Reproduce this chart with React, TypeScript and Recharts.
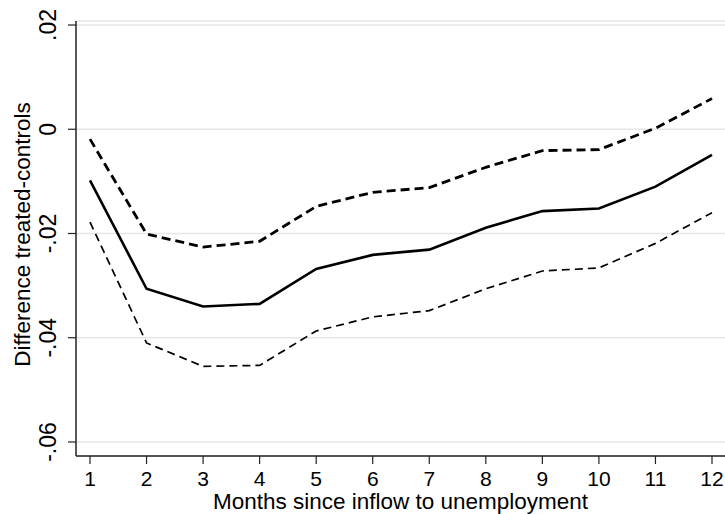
import React from "react";
import { LineChart, Line, XAxis, YAxis, CartesianGrid } from "recharts";

const months = [1, 2, 3, 4, 5, 6, 7, 8, 9, 10, 11, 12];
const estimate = [-0.0098, -0.0306, -0.034, -0.0335, -0.0268, -0.0241, -0.0231, -0.0189, -0.0157, -0.0152, -0.011, -0.0049];
const upperBound = [-0.0019, -0.0201, -0.0226, -0.0215, -0.0148, -0.0121, -0.0112, -0.0073, -0.0041, -0.0039, 0.0002, 0.0059];
const lowerBound = [-0.0178, -0.041, -0.0455, -0.0453, -0.0387, -0.036, -0.0348, -0.0306, -0.0272, -0.0266, -0.0219, -0.016];
const yTicks = [-0.06, -0.04, -0.02, 0, 0.02];
const xLabel = "Months since inflow to unemployment";
const yLabel = "Difference treated-controls";

const data = months.map((m, i) => ({
  month: m,
  estimate: estimate[i],
  upper: upperBound[i],
  lower: lowerBound[i],
}));

const FONT = "'Liberation Sans', Arial, sans-serif";

const fmtY = (v: number) => {
  if (Math.abs(v) < 1e-9) return "0";
  const s = Math.abs(v).toFixed(2).replace(/^0/, "");
  return (v < 0 ? "-" : "") + s;
};

const XTick = (props: any) => {
  const { x, y, payload } = props;
  return (
    <text x={x} y={y} dy={20} textAnchor="middle" fontFamily={FONT} fontSize={21} fill="#000">
      {payload.value}
    </text>
  );
};

const YTick = (props: any) => {
  const { x, y, payload } = props;
  const bx = x - 10;
  return (
    <text
      x={bx}
      y={y}
      textAnchor="middle"
      transform={`rotate(-90 ${bx} ${y})`}
      fontFamily={FONT}
      fontSize={23}
      fill="#000"
    >
      {fmtY(payload.value)}
    </text>
  );
};

const XTitle = (props: any) => {
  const vb = props.viewBox || {};
  const cx = vb.x + vb.width / 2;
  return (
    <text x={cx} y={vb.y + 53} textAnchor="middle" fontFamily={FONT} fontSize={22.5} fill="#000">
      {xLabel}
    </text>
  );
};

const YTitle = (props: any) => {
  const vb = props.viewBox || {};
  const cy = vb.y + vb.height / 2 - 4;
  const bx = 30;
  return (
    <text
      x={bx}
      y={cy}
      textAnchor="middle"
      transform={`rotate(-90 ${bx} ${cy})`}
      fontFamily={FONT}
      fontSize={22.5}
      fill="#000"
    >
      {yLabel}
    </text>
  );
};

export default function App() {
  return (
    <div style={{ position: "absolute", left: 0, top: 0, width: 725, height: 514, background: "#fff" }}>
      <LineChart width={725} height={514} data={data} margin={{ top: 21, right: 0, bottom: 0, left: 0 }}>
        <CartesianGrid horizontal vertical={false} stroke="#e6e6e6" strokeWidth={1.5} />
        <XAxis
          dataKey="month"
          type="number"
          domain={[1, 12]}
          ticks={months}
          interval={0}
          padding={{ left: 14, right: 13 }}
          height={58}
          tickSize={8}
          tick={<XTick />}
          axisLine={{ stroke: "#222", strokeWidth: 1.5 }}
          tickLine={{ stroke: "#222", strokeWidth: 1.2 }}
          label={<XTitle />}
        />
        <YAxis
          type="number"
          domain={[-0.06269, 0.02077]}
          ticks={yTicks}
          interval={0}
          allowDataOverflow
          width={76}
          tickSize={8}
          tick={<YTick />}
          axisLine={{ stroke: "#222", strokeWidth: 1.5 }}
          tickLine={{ stroke: "#222", strokeWidth: 1.2 }}
          label={<YTitle />}
        />
        <Line
          type="linear"
          dataKey="upper"
          stroke="#000"
          strokeWidth={2.8}
          strokeDasharray="9 5"
          dot={false}
          activeDot={false}
          isAnimationActive={false}
        />
        <Line
          type="linear"
          dataKey="estimate"
          stroke="#000"
          strokeWidth={2.6}
          dot={false}
          activeDot={false}
          isAnimationActive={false}
        />
        <Line
          type="linear"
          dataKey="lower"
          stroke="#000"
          strokeWidth={1.7}
          strokeDasharray="8 5"
          dot={false}
          activeDot={false}
          isAnimationActive={false}
        />
      </LineChart>
    </div>
  );
}
